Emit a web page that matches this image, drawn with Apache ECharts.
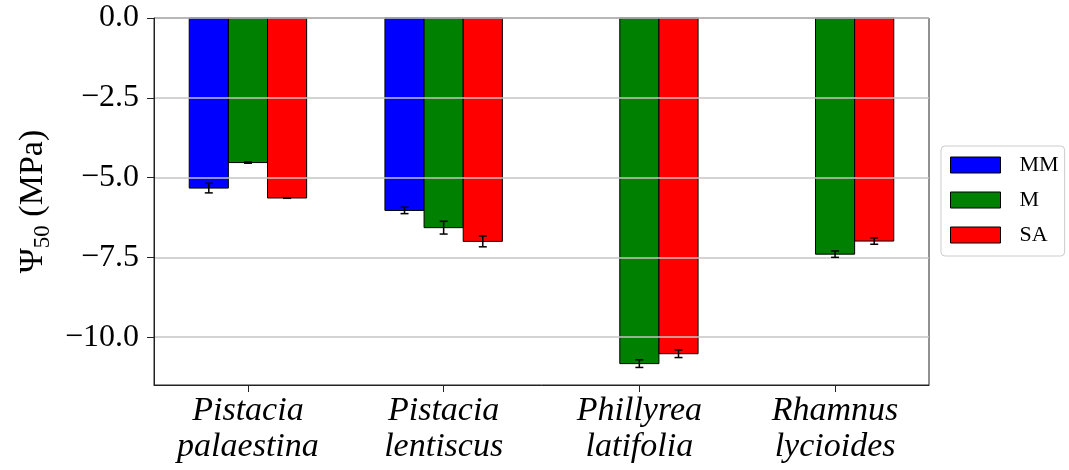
<!DOCTYPE html>
<html>
<head>
<meta charset="utf-8">
<script src="https://cdn.jsdelivr.net/npm/echarts@6/dist/echarts.min.js"></script>
<style>
  html, body { margin: 0; padding: 0; background: #fff; }
  #chart { width: 1069px; height: 470px; }
</style>
</head>
<body>
<div id="chart"></div>
<script>
// Species on the x axis (one per integer position)
const species = ['Pistacia\npalaestina', 'Pistacia\nlentiscus', 'Phillyrea\nlatifolia', 'Rhamnus\nlycioides'];

// Mean Ψ50 (MPa) per provenance; null where a species has no data
const valuesMM = [-5.33, -6.03, null, null];
const valuesM  = [-4.53, -6.57, -10.83, -7.40];
const valuesSA = [-5.64, -7.00, -10.52, -6.99];

// Standard errors
const errorsMM = [0.15, 0.10, null, null];
const errorsM  = [0.02, 0.20, 0.12, 0.10];
const errorsSA = [0.01, 0.17, 0.12, 0.10];

// Axis ticks
const yTicks = [0, -2.5, -5, -7.5, -10];
const xTicks = [0, 1, 2, 3];

const SERIF = '"Liberation Serif", "Times New Roman", serif';
const BAR_UNITS = 0.2;   // bar width in x-axis units
const X_MIN = -0.48, X_MAX = 3.48;

function fmtTick(v) {
  return v.toFixed(1).replace('-', '\u2212');
}

// One rectangle per value, placed with the axis scales
function barSeries(name, vals, color, shift) {
  const data = [];
  vals.forEach((v, i) => { if (v !== null) data.push([i + shift, v]); });
  return {
    name: name,
    type: 'custom',
    z: 2,
    data: data,
    itemStyle: { color: color, borderColor: '#000', borderWidth: 1 },
    renderItem: function (params, api) {
      const x = api.value(0), v = api.value(1);
      const p0 = api.coord([x - BAR_UNITS / 2, 0]);
      const p1 = api.coord([x + BAR_UNITS / 2, v]);
      return {
        type: 'rect',
        shape: { x: p0[0], y: p0[1], width: p1[0] - p0[0], height: p1[1] - p0[1] },
        style: { fill: color, stroke: '#000', lineWidth: 1 }
      };
    }
  };
}

function errorSeries(vals, errs, shift) {
  const data = [];
  vals.forEach((v, i) => { if (v !== null && errs[i] !== null) data.push([i + shift, v, errs[i]]); });
  return {
    type: 'custom',
    z: 10,
    silent: true,
    data: data,
    renderItem: function (params, api) {
      const x0 = api.value(0), v = api.value(1), e = api.value(2);
      const hi = api.coord([x0, v + e]);
      const lo = api.coord([x0, v - e]);
      const x = hi[0];
      const cap = 4;
      const style = { stroke: '#000', lineWidth: 1.5 };
      return {
        type: 'group',
        children: [
          { type: 'line', shape: { x1: x, y1: hi[1], x2: x, y2: lo[1] }, style: style },
          { type: 'line', shape: { x1: x - cap, y1: hi[1], x2: x + cap, y2: hi[1] }, style: style },
          { type: 'line', shape: { x1: x - cap, y1: lo[1], x2: x + cap, y2: lo[1] }, style: style }
        ]
      };
    }
  };
}

const chart = echarts.init(document.getElementById('chart'));
chart.setOption({
  animation: false,
  backgroundColor: '#fff',
  grid: {
    left: 154, top: 18, width: 775, height: 367,
    show: true, borderColor: '#222', borderWidth: 1, backgroundColor: 'transparent'
  },
  legend: {
    orient: 'vertical',
    left: 941, top: 146,
    icon: 'rect',
    itemWidth: 50, itemHeight: 16, itemGap: 13,
    padding: [8, 6, 10, 9],
    borderColor: '#cccccc', borderWidth: 1, borderRadius: 4,
    itemStyle: { borderColor: '#000', borderWidth: 1 },
    textStyle: { fontFamily: SERIF, fontSize: 22, color: '#000', padding: [0, 0, 0, 14] },
    data: [
      { name: 'MM', itemStyle: { color: '#0000ff' } },
      { name: 'M', itemStyle: { color: '#008000' } },
      { name: 'SA', itemStyle: { color: '#ff0000' } }
    ]
  },
  xAxis: {
    type: 'value',
    min: X_MIN, max: X_MAX,
    axisLine: { onZero: false, lineStyle: { color: '#222', width: 1 } },
    axisTick: { show: true, length: 7, customValues: xTicks, lineStyle: { color: '#222' } },
    axisLabel: {
      customValues: xTicks, margin: 8,
      fontFamily: SERIF, fontStyle: 'italic', fontSize: 34, lineHeight: 36, color: '#000',
      formatter: function (v) { return species[Math.round(v)]; }
    },
    splitLine: { show: false }
  },
  yAxis: {
    type: 'value',
    min: -11.5, max: 0,
    z: 3,
    name: '{a|\u03A8}{s|50}{a| (MPa)}',
    nameLocation: 'middle',
    nameGap: 98,
    nameRotate: 90,
    nameTextStyle: {
      fontFamily: SERIF, fontSize: 34, color: '#000',
      rich: {
        a: { fontFamily: SERIF, fontSize: 34, lineHeight: 42, color: '#000' },
        s: { fontFamily: SERIF, fontSize: 23, lineHeight: 20, verticalAlign: 'bottom', color: '#000' }
      }
    },
    axisLine: { show: true, onZero: false, lineStyle: { color: '#222', width: 1 } },
    axisTick: { show: true, length: 7, customValues: yTicks, lineStyle: { color: '#222' } },
    axisLabel: {
      customValues: yTicks, margin: 15,
      fontFamily: SERIF, fontSize: 32, color: '#000',
      formatter: fmtTick
    },
    splitLine: { show: true, customValues: yTicks, lineStyle: { color: '#c4c4c4', width: 1.5 } }
  },
  series: [
    barSeries('MM', valuesMM, '#0000ff', -BAR_UNITS),
    barSeries('M', valuesM, '#008000', 0),
    barSeries('SA', valuesSA, '#ff0000', BAR_UNITS),
    errorSeries(valuesMM, errorsMM, -BAR_UNITS),
    errorSeries(valuesM, errorsM, 0),
    errorSeries(valuesSA, errorsSA, BAR_UNITS)
  ]
});
</script>
</body>
</html>
